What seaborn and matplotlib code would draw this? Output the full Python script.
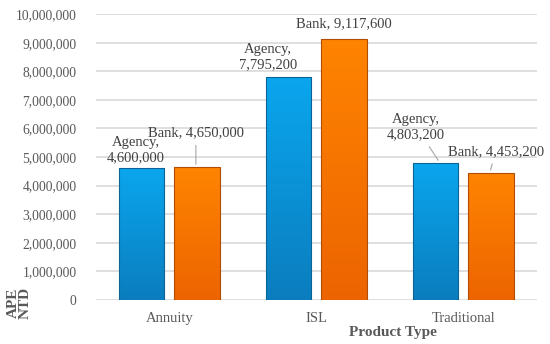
import matplotlib
matplotlib.use("Agg")
import matplotlib.pyplot as plt
from matplotlib.colors import LinearSegmentedColormap
import seaborn as sns
import pandas as pd
import numpy as np

# Dados
produtos = ["Annuity", "ISL", "Traditional"]
canais = ["Agency", "Bank"]
agency = [4600000, 7795200, 4803200]
bank = [4650000, 9117600, 4453200]

dados = pd.DataFrame({
    "produto": produtos * 2,
    "canal": ["Agency"] * 3 + ["Bank"] * 3,
    "ape": agency + bank,
})

sns.set_style("white")
plt.rcParams["font.family"] = ["Liberation Serif", "DejaVu Serif"]

fig = plt.figure(figsize=(5.5, 3.44), dpi=100)
ax = fig.add_axes([0.1745, 0.128, 0.8015, 0.831])

sns.barplot(data=dados, x="produto", y="ape", hue="canal", order=produtos,
            hue_order=canais, palette=["#0A94DA", "#FA7600"], saturation=1,
            width=0.76, gap=0.18, edgecolor="none", linewidth=0, ax=ax,
            legend=False, zorder=3)

ax.set_ylim(0, 10000000)

# gradiente vertical em cada barra (claro em cima, escuro embaixo)
grad_azul = LinearSegmentedColormap.from_list("azul", ["#0A7DBE", "#0BA6EE"])
grad_laranja = LinearSegmentedColormap.from_list("laranja", ["#EC6400", "#FF8400"])
gradiente = np.linspace(0, 1, 256).reshape(-1, 1)
for i, patch in enumerate(ax.patches):
    cmap = grad_azul if i < 3 else grad_laranja
    x0, y0 = patch.get_x(), patch.get_y()
    w, h = patch.get_width(), patch.get_height()
    img = ax.imshow(gradiente, cmap=cmap, origin="lower", aspect="auto",
                    extent=[x0, x0 + w, y0, y0 + h], zorder=3.5)
    img.set_clip_path(patch)
    patch.set_edgecolor("#0B6396" if i < 3 else "#B24C00")
    patch.set_linewidth(0.8)
    patch.set_zorder(4)
    patch.set_facecolor("none")

ax.set_xlim(-0.5, 2.5)
ax.set_ylim(0, 10000000)
ax.set_yticks(range(0, 10000001, 1000000))
ax.set_yticklabels([f"{v:,}" for v in range(0, 10000001, 1000000)])
ax.yaxis.grid(True, color="#D9D9D9", linewidth=1.2, zorder=0)
ax.set_axisbelow(True)
for s in ax.spines.values():
    s.set_visible(False)
ax.tick_params(axis="y", length=0, pad=14, labelsize=9.8, labelcolor="#595959")
ax.tick_params(axis="x", length=0, pad=9, labelsize=10.5, labelcolor="#595959")
ax.set_xlabel("")
ax.set_ylabel("")

# rótulos dos dados
cor_txt = "#404040"
fs = 10.5
seta = dict(arrowstyle="-", color="#A6A6A6", lw=0.8)
pos = [-0.19, 0.19]
ax.annotate(f"Agency,\n{agency[0]:,}", xy=(pos[0], agency[0]), xytext=(-0.23, 5250000),
            ha="center", va="center", fontsize=fs, color=cor_txt)
ax.annotate(f"Bank, {bank[0]:,}", xy=(0.18, bank[0]), xytext=(0.18, 5850000),
            ha="center", va="center", fontsize=fs, color=cor_txt, arrowprops=seta)
ax.annotate(f"Agency,\n{agency[1]:,}", xy=(1 + pos[0], agency[1]), xytext=(0.67, 8500000),
            ha="center", va="center", fontsize=fs, color=cor_txt)
ax.annotate(f"Bank, {bank[1]:,}", xy=(1 + pos[1], bank[1]), xytext=(1.19, 9650000),
            ha="center", va="center", fontsize=fs, color=cor_txt)
ax.annotate(f"Agency,\n{agency[2]:,}", xy=(1.84, agency[2]), xytext=(1.68, 6050000),
            ha="center", va="center", fontsize=fs, color=cor_txt, arrowprops=seta)
ax.annotate(f"Bank, {bank[2]:,}", xy=(2.18, bank[2]), xytext=(2.22, 5200000),
            ha="center", va="center", fontsize=fs, color=cor_txt, arrowprops=seta)

# títulos dos eixos
fig.text(0.715, 0.032, "Product Type", ha="center", va="center", fontsize=11,
         fontweight="bold", color="#595959")
fig.text(0.035, 0.12, "APE\nNTD", rotation=90, ha="center", va="center", fontsize=11,
         fontweight="bold", color="#595959", linespacing=0.95)

fig.savefig("out.png", dpi=100)
